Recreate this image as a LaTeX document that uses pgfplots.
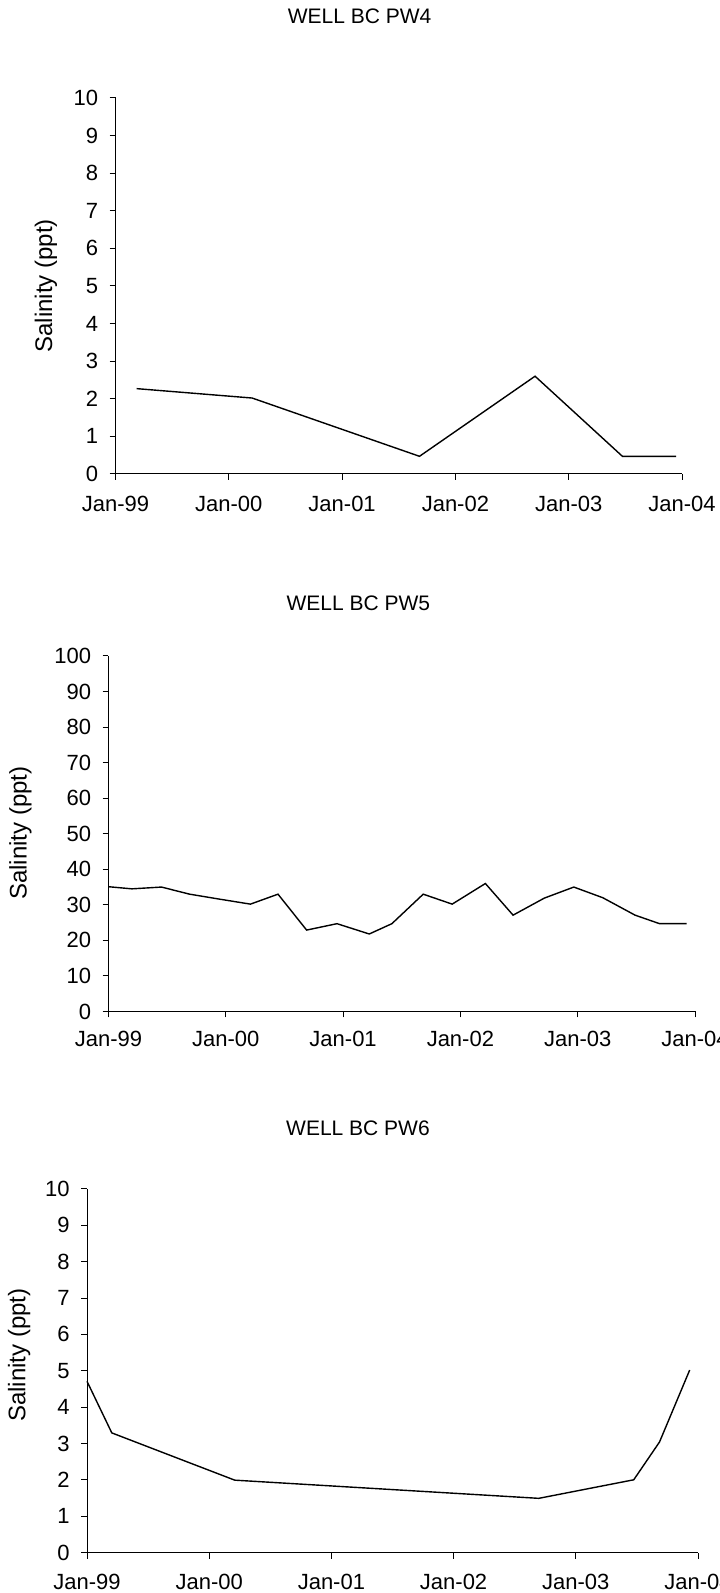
\documentclass[border=0pt]{standalone}
\usepackage{pgfplots}
\pgfplotsset{compat=1.18}
\usepackage{fontspec}
\setmainfont{Liberation Sans}
\begin{document}
\begin{tikzpicture}
\path[use as bounding box] (0,0) rectangle (359.5pt,796.5pt);
\clip (0,0) rectangle (359.5pt,796.5pt);
\pgfplotsset{
  wellstyle/.style={
    scale only axis,
    anchor=south west,
    axis x line*=bottom,
    axis y line*=left,
    axis line style={-, black, line width=0.5pt},
    tick style={black, line width=0.5pt},
    tick align=outside,
    major tick length=3pt,
    xmin=1999, xmax=2004,
    xtick={1999,2000,2001,2002,2003,2004},
    xticklabels={Jan-99,Jan-00,Jan-01,Jan-02,Jan-03,Jan-04},
    minor tick num=0,
    /pgf/number format/assume math mode=true,
    ticklabel style={font=\fontsize{11}{13}\selectfont},
    xticklabel style={anchor=north, inner sep=0pt},
    yticklabel style={anchor=east, inner sep=0pt, xshift=-5.5pt},
    ylabel={Salinity (ppt)},
    ylabel style={font=\fontsize{12}{14}\selectfont, anchor=center},
    title style={font=\fontsize{10.5}{12}\selectfont},
    clip=false,
    ymin=0,
  }
}
% Chart 1
\begin{axis}[wellstyle,
  at={(57.75pt,559.5pt)}, width=283.25pt, height=188pt,
  ymax=10, ytick={0,1,...,10},
  xticklabel style={yshift=-8pt},
  title={WELL BC PW4},
  title style={at={(axis description cs:0.431,1.218)}, anchor=center, yshift=-6pt},
  ylabel style={at={(axis description cs:-0.123,0.5)}},
]
\addplot[black, line width=0.7pt, mark=none] coordinates {
(1999.186,2.27) (2000.206,2.02) (2001.683,0.47) (2002.703,2.6) (2003.474,0.47) (2003.949,0.47)
};
\end{axis}
% Chart 2
\begin{axis}[wellstyle,
  at={(54.25pt,290.75pt)}, width=293.25pt, height=177.75pt,
  ymax=100, ytick={0,10,...,100},
  xticklabel style={yshift=-6.75pt},
  title={WELL BC PW5},
  title style={at={(axis description cs:0.426,1.148)}, anchor=center, yshift=-6pt},
  ylabel style={at={(axis description cs:-0.15,0.502)}},
]
\addplot[black, line width=0.7pt, mark=none] coordinates {
(1999.0,35.1) (1999.2,34.5) (1999.452,35.0) (1999.691,33.0) (1999.947,31.6) (2000.21,30.2) (2000.445,33.0) (2000.689,22.9) (2000.948,24.7) (2001.223,21.8) (2001.416,24.7) (2001.683,33.0) (2001.93,30.2) (2002.213,36.0) (2002.449,27.1) (2002.716,31.9) (2002.967,35.0) (2003.214,32.0) (2003.489,27.1) (2003.698,24.7) (2003.929,24.7)
};
\end{axis}
% Chart 3
\begin{axis}[wellstyle,
  at={(43.5pt,20.25pt)}, width=305.5pt, height=181.75pt,
  ymax=10, ytick={0,1,...,10},
  xticklabel style={yshift=-7.5pt},
  title={WELL BC PW6},
  title style={at={(axis description cs:0.4435,1.168)}, anchor=center, yshift=-6pt},
  ylabel style={at={(axis description cs:-0.111,0.543)}},
]
\addplot[black, line width=0.7pt, mark=none] coordinates {
(1999.0,4.71) (1999.203,3.29) (2000.209,1.99) (2002.697,1.49) (2003.474,2.0) (2003.685,3.04) (2003.932,5.02)
};
\end{axis}
\end{tikzpicture}
\end{document}
